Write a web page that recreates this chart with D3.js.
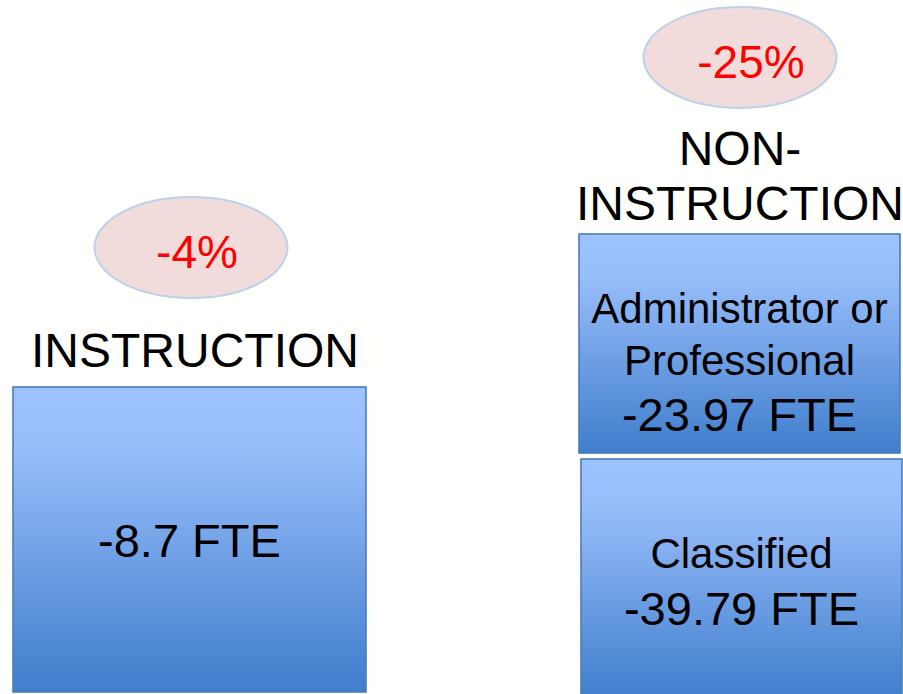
<!DOCTYPE html>
<html>
<head>
<meta charset="utf-8">
<script src="https://cdn.jsdelivr.net/npm/d3@7"></script>
<style>
  body { margin: 0; background: #fffffd; }
  svg { display: block; font-family: "Liberation Sans", Arial, sans-serif; }
</style>
</head>
<body>
<svg id="chart"></svg>
<script>
// data
const groups = ["INSTRUCTION", "NON-INSTRUCTION"];
const groupTitleLines = [["INSTRUCTION"], ["NON-", "INSTRUCTION"]];
const pctChange = ["-4%", "-25%"];

const boxGroup = ["INSTRUCTION", "NON-INSTRUCTION", "NON-INSTRUCTION"];
const boxLabel = [[], ["Administrator or", "Professional"], ["Classified"]];
const boxFte = [-8.7, -23.97, -39.79];

const width = 903, height = 694;

const svg = d3.select('#chart')
    .attr('width', width)
    .attr('height', height);

// gradient for the boxes
const defs = svg.append('defs');
const grad = defs.append('linearGradient')
    .attr('id', 'boxGrad')
    .attr('x1', 0).attr('y1', 0).attr('x2', 0).attr('y2', 1);
grad.append('stop').attr('offset', '0%').attr('stop-color', '#9dc3ff');
grad.append('stop').attr('offset', '20%').attr('stop-color', '#97bdfa');
grad.append('stop').attr('offset', '100%').attr('stop-color', '#3f7dcc');

// column layout
const colX = d3.scaleOrdinal().domain(groups).range([191, 740]);
const titleX = d3.scaleOrdinal().domain(groups).range([195, 740]);

// box layout (per box: left, right, top, bottom)
const boxLeft = d3.scaleOrdinal().domain([0, 1, 2]).range([13, 579, 581]);
const boxRight = d3.scaleOrdinal().domain([0, 1, 2]).range([366, 900, 902]);
const boxTop = d3.scaleOrdinal().domain([0, 1, 2]).range([387, 234, 459]);
const boxBottom = d3.scaleOrdinal().domain([0, 1, 2]).range([692, 453, 700]);

// ellipses with % change
const ellY = d3.scaleOrdinal().domain(groups).range([247.5, 57.5]);
const pctDx = d3.scaleOrdinal().domain(groups).range([6, 11]);

const ell = svg.selectAll('g.pct')
    .data(groups)
    .enter()
    .append('g')
    .attr('class', 'pct');

ell.append('ellipse')
    .attr('cx', d => colX(d))
    .attr('cy', d => ellY(d))
    .attr('rx', 96.5)
    .attr('ry', 50.5)
    .attr('fill', '#f2dcdb')
    .attr('stroke', '#bcd1ea')
    .attr('stroke-width', 2);

ell.append('text')
    .attr('x', d => colX(d) + pctDx(d))
    .attr('y', d => ellY(d) + 20)
    .attr('text-anchor', 'middle')
    .attr('fill', '#ff0000')
    .attr('font-size', 46)
    .text((d, i) => pctChange[i]);

// group titles
const titleBase = d3.scaleOrdinal().domain(groups).range([367, 165]);
svg.selectAll('text.title')
    .data(groups)
    .enter()
    .append('text')
    .attr('class', 'title')
    .attr('text-anchor', 'middle')
    .attr('font-size', 48)
    .attr('fill', '#000')
    .each(function(d, i) {
        const t = d3.select(this);
        groupTitleLines[i].forEach((line, j) => {
            t.append('tspan')
                .attr('x', titleX(d))
                .attr('y', titleBase(d) + j * 55)
                .text(line);
        });
    });

// boxes
const boxes = svg.selectAll('g.box')
    .data(boxFte)
    .enter()
    .append('g')
    .attr('class', 'box');

boxes.append('rect')
    .attr('x', (d, i) => boxLeft(i))
    .attr('y', (d, i) => boxTop(i))
    .attr('width', (d, i) => boxRight(i) - boxLeft(i))
    .attr('height', (d, i) => boxBottom(i) - boxTop(i))
    .attr('fill', 'url(#boxGrad)')
    .attr('stroke', '#4a7ebb')
    .attr('stroke-width', 1.6);

// label baselines inside boxes
const labelBase = [[], [323, 375], [568]];
const fteBase = [557, 431, 625];

boxes.each(function(d, i) {
    const g = d3.select(this);
    const cx = (boxLeft(i) + boxRight(i)) / 2;
    boxLabel[i].forEach((line, j) => {
        g.append('text')
            .attr('x', cx)
            .attr('y', labelBase[i][j])
            .attr('text-anchor', 'middle')
            .attr('font-size', 42)
            .attr('fill', '#000')
            .text(line);
    });
    g.append('text')
        .attr('x', cx)
        .attr('y', fteBase[i])
        .attr('text-anchor', 'middle')
        .attr('font-size', 47)
        .attr('fill', '#000')
        .text(d + ' FTE');
});
</script>
</body>
</html>
